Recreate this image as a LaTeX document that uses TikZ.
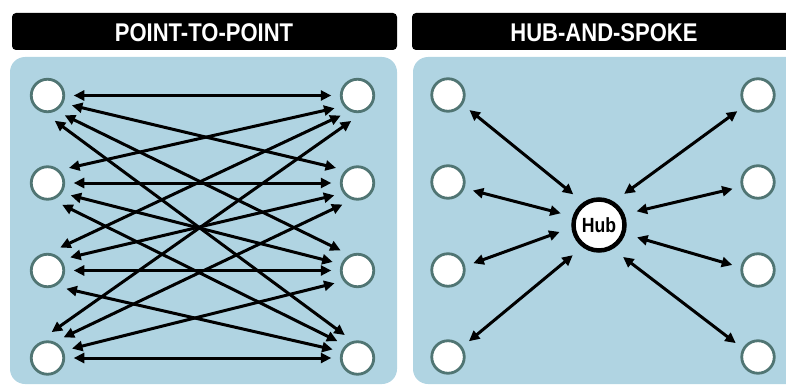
\documentclass[tikz,border=0pt]{standalone}
\usepackage{fontspec}
\newfontfamily\titlefont[FakeStretch=0.86]{Liberation Sans}
\usetikzlibrary{arrows.meta}
\definecolor{panelblue}{RGB}{176,212,226}
\definecolor{ringgray}{RGB}{80,117,115}

\begin{document}
\begin{tikzpicture}[x=1pt, y=-1pt,
    site/.style={circle, draw=ringgray, fill=white, line width=2.8pt, minimum size=32.5pt, inner sep=0pt, outer sep=10pt},
    hubnode/.style={circle, draw=black, fill=white, line width=4.5pt, minimum size=51pt, inner sep=0pt, outer sep=14.5pt, font=\titlefont\bfseries\fontsize{20.5}{21}\selectfont},
    arr/.style={{Triangle[length=10.5pt,width=10pt]}-{Triangle[length=10.5pt,width=10pt]}, line width=3pt},
    titlebar/.style={fill=black, rounded corners=4pt},
    titletext/.style={white, font=\titlefont\bfseries\fontsize{25.6}{26}\selectfont},
    panel/.style={fill=panelblue, rounded corners=15pt}]
        \useasboundingbox (0,0) rectangle (786,385);
        \clip (0,0) rectangle (786,385);

        % Title bars
        \fill[titlebar] (12,13) rectangle (397,50);
        \node[titletext] (ptitle) at (204,32.5) {POINT-TO-POINT};
        \fill[titlebar] (412,13) rectangle (797,50);
        \node[titletext] (htitle) at (604,32.5) {HUB-AND-SPOKE};

        % Panels
        \fill[panel] (10,57) rectangle (397,384);
        \fill[panel] (413,57) rectangle (810,384);

        % Point-to-point sites
        \node[site] (pl1) at (47.5,95.5) {};
        \node[site] (pl2) at (47.5,183) {};
        \node[site] (pl3) at (47.5,270.5) {};
        \node[site] (pl4) at (47.5,358) {};
        \node[site] (pr1) at (357.5,95.5) {};
        \node[site] (pr2) at (357.5,183) {};
        \node[site] (pr3) at (357.5,270.5) {};
        \node[site] (pr4) at (357.5,358) {};

        % Every site to every site
        \draw[arr] (pl1.0) -- (pr1.180);
        \draw[arr] (pl1.-22) -- (pr2.145);
        \draw[arr] (pl1.-49) -- (pr3.130);
        \draw[arr] (pl1.-74) -- (pr4.119);
        \draw[arr] (pl2.35) -- (pr1.209);
        \draw[arr] (pl2.0) -- (pr2.180);
        \draw[arr] (pl2.-28) -- (pr3.161);
        \draw[arr] (pl2.-56) -- (pr4.140);
        \draw[arr] (pl3.61) -- (pr1.230);
        \draw[arr] (pl3.30) -- (pr2.208);
        \draw[arr] (pl3.0) -- (pr3.180);
        \draw[arr] (pl3.-44) -- (pr4.161);
        \draw[arr] (pl4.81) -- (pr1.256);
        \draw[arr] (pl4.52) -- (pr2.235);
        \draw[arr] (pl4.21) -- (pr3.209);
        \draw[arr] (pl4.0) -- (pr4.180);

        % Hub-and-spoke sites
        \node[hubnode] (hub) at (599,225) {Hub};
        \node[site] (hl1) at (448,95) {};
        \node[site] (hl2) at (448,182) {};
        \node[site] (hl3) at (448,270) {};
        \node[site] (hl4) at (448,357) {};
        \node[site] (hr1) at (758,95) {};
        \node[site] (hr2) at (758,182) {};
        \node[site] (hr3) at (758,270) {};
        \node[site] (hr4) at (758,357) {};

        % Spokes
        \draw[arr] (hl1.-35) -- (hub.130);
        \draw[arr] (hl2.-19) -- (hub.163);
        \draw[arr] (hl3.15) -- (hub.190);
        \draw[arr] (hl4.37) -- (hub.229);
        \draw[arr] (hr1.218) -- (hub.51);
        \draw[arr] (hr2.195) -- (hub.20);
        \draw[arr] (hr3.169) -- (hub.-18);
        \draw[arr] (hr4.148) -- (hub.-53);
    \end{tikzpicture}
\end{document}
